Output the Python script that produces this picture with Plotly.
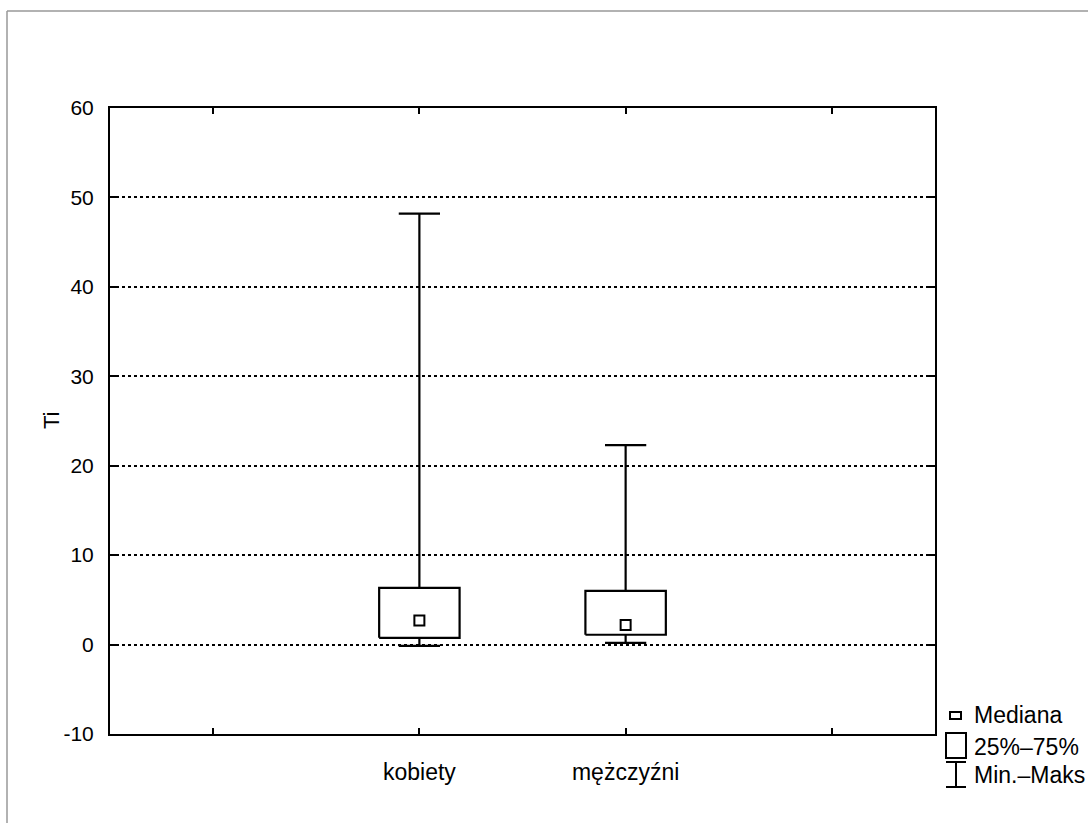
import plotly.graph_objects as go

categories = ["kobiety", "mężczyźni"]
q1 = [0.75, 1.1]
median = [2.7, 2.2]
q3 = [6.35, 6.0]
vmin = [-0.15, 0.2]
vmax = [48.2, 22.3]

y_ticks = [-10, 0, 10, 20, 30, 40, 50, 60]
y_ticktext = ["-10", "0", "10", "20", "30", "40", "50", "60"]

FONT = "Liberation Sans, Arial, sans-serif"
BOX_HW = 0.195
CAP_HW = 0.1

fig = go.Figure()
for i, cat in enumerate(categories):
    x = i
    fig.add_trace(go.Scatter(
        x=[x - BOX_HW, x + BOX_HW, x + BOX_HW, x - BOX_HW, x - BOX_HW],
        y=[q1[i], q1[i], q3[i], q3[i], q1[i]],
        mode="lines", line=dict(color="black", width=2.2), showlegend=False, hoverinfo="skip"))
    fig.add_trace(go.Scatter(
        x=[x, x, None, x, x, None, x - CAP_HW, x + CAP_HW, None, x - CAP_HW, x + CAP_HW],
        y=[q3[i], vmax[i], None, q1[i], vmin[i], None, vmax[i], vmax[i], None, vmin[i], vmin[i]],
        mode="lines", line=dict(color="black", width=2.2), showlegend=False, hoverinfo="skip"))
    fig.add_trace(go.Scatter(
        x=[x], y=[median[i]], mode="markers",
        marker=dict(symbol="square", size=10, color="white", line=dict(color="black", width=2)),
        showlegend=False))

L, R, T, B = 110, 935, 108, 734
W, H = R - L, B - T
def px(xp):
    return (xp - L) / W
def py(yp):
    return (B - yp) / H

shapes = []
shapes.append(dict(type="line", xref="paper", yref="paper", x0=px(7), x1=px(7), y0=py(11), y1=py(830),
                   line=dict(color="#999999", width=1.5)))
shapes.append(dict(type="line", xref="paper", yref="paper", x0=px(7), x1=px(1095), y0=py(11), y1=py(11),
                   line=dict(color="#999999", width=1.5)))
shapes.append(dict(type="rect", xref="paper", yref="paper", x0=px(950), x1=px(961), y0=py(719), y1=py(712),
                   line=dict(color="black", width=2), fillcolor="white"))
shapes.append(dict(type="rect", xref="paper", yref="paper", x0=px(946), x1=px(966), y0=py(758), y1=py(733),
                   line=dict(color="black", width=2), fillcolor="white"))
shapes.append(dict(type="line", xref="paper", yref="paper", x0=px(956), x1=px(956), y0=py(787), y1=py(762),
                   line=dict(color="black", width=2)))
shapes.append(dict(type="line", xref="paper", yref="paper", x0=px(946), x1=px(966), y0=py(762), y1=py(762),
                   line=dict(color="black", width=2)))
shapes.append(dict(type="line", xref="paper", yref="paper", x0=px(946), x1=px(966), y0=py(787), y1=py(787),
                   line=dict(color="black", width=2)))

annotations = []
for txt, yy in [("Mediana", 715), ("25%–75%", 747), ("Min.–Maks", 775)]:
    annotations.append(dict(text=txt, xref="paper", yref="paper", x=px(972), y=py(yy),
                            xanchor="left", yanchor="middle", showarrow=False,
                            font=dict(family=FONT, size=23, color="black")))
annotations.append(dict(text="Ti", xref="paper", yref="paper", x=px(51), y=py(420), textangle=-90,
                        xanchor="center", yanchor="middle", showarrow=False,
                        font=dict(family=FONT, size=22, color="black")))

fig.update_layout(
    width=1088, height=823,
    margin=dict(l=L, r=1088 - R, t=T, b=823 - B),
    paper_bgcolor="white", plot_bgcolor="white",
    shapes=shapes, annotations=annotations,
    showlegend=False,
    font=dict(family=FONT, color="black", size=20),
    xaxis=dict(range=[-1.5, 2.5], tickvals=[-1, 0, 1, 2], ticktext=["", categories[0], categories[1], ""],
               ticks="inside", ticklen=6, tickwidth=2, tickcolor="black",
               showline=True, linewidth=2, linecolor="black", mirror="ticks",
               showgrid=False, zeroline=False, ticklabelstandoff=16,
               tickfont=dict(family=FONT, size=23, color="black")),
    yaxis=dict(range=[-10, 60], tickvals=y_ticks, ticktext=y_ticktext,
               ticks="inside", ticklen=6, tickwidth=2, tickcolor="black",
               showline=True, linewidth=2, linecolor="black", mirror="ticks",
               showgrid=True, gridcolor="black", gridwidth=1.5, griddash="dot", zeroline=False,
               ticklabelstandoff=10,
               tickfont=dict(family=FONT, size=21, color="black")),
)

fig.write_html("out.html")
